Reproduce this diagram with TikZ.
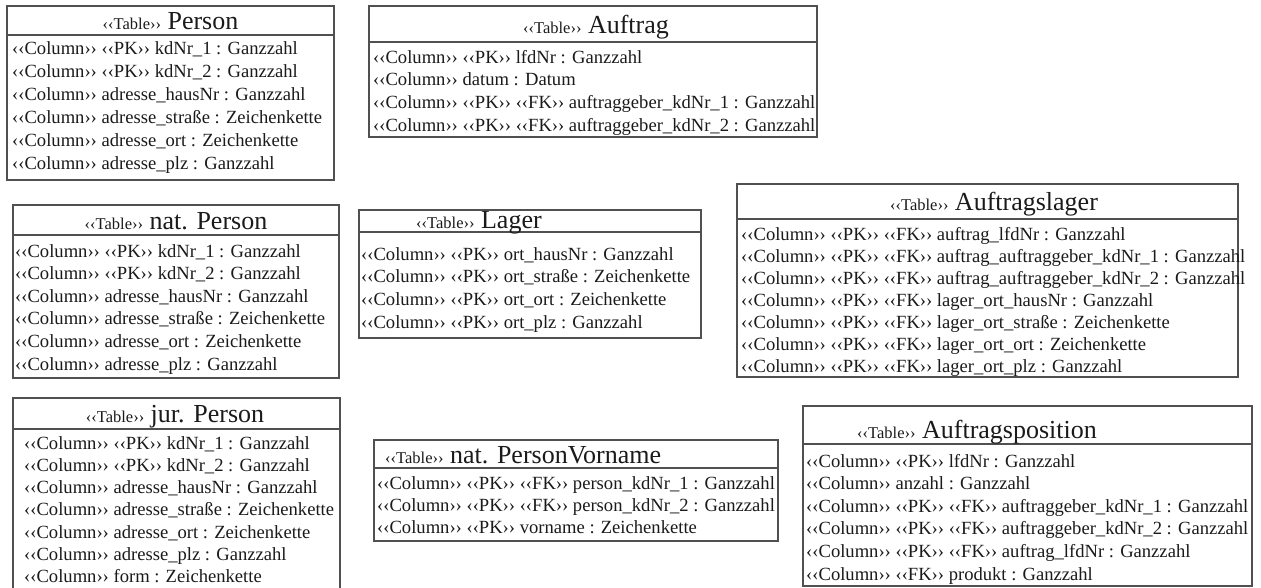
\documentclass[tikz,border=0pt]{standalone}
\usepackage{fontspec}
\setmainfont{Liberation Serif}
\definecolor{framegray}{HTML}{505050}
\definecolor{ink}{HTML}{1A1A1A}
% stereotype marker, e.g. <<Table>>
\newcommand\stype[1]{‹‹#1››}
\newcommand\rowsize{\fontsize{18.6}{22}\selectfont}
\newcommand\namesize{\fontsize{26}{29}\selectfont}
\newcommand\tagsize{\fontsize{16.5}{19}\selectfont}
\newcommand\ttl[1]{{\tagsize\stype{Table}} #1}
\tikzset{
  tbox/.style={draw=framegray, line width=1.2pt},
  rowtext/.style={anchor=base west, inner sep=0pt, font=\rowsize, text=ink},
  titletext/.style={anchor=base, inner sep=0pt, font=\namesize, text=ink},
  titleleft/.style={anchor=base west, inner sep=0pt, font=\namesize, text=ink},
}
\begin{document}
\begin{tikzpicture}[x=1pt,y=-1pt]
\useasboundingbox (0,0) rectangle (1261,587);
\clip (0,0) rectangle (1261,587);

% Person
\draw[tbox] (7,6) rectangle (334,180);
\draw[tbox] (7,35) -- (334,35);
\node[titletext] (person) at (170.5,29) {\ttl{Person}};
\foreach \t [count=\i] in {%
  {\stype{Column} \stype{PK} kdNr\_1 : Ganzzahl},
  {\stype{Column} \stype{PK} kdNr\_2 : Ganzzahl},
  {\stype{Column} adresse\_hausNr : Ganzzahl},
  {\stype{Column} adresse\_straße : Zeichenkette},
  {\stype{Column} adresse\_ort : Zeichenkette},
  {\stype{Column} adresse\_plz : Ganzzahl}}
  \node[rowtext] (person-\i) at (12,{54+23*(\i-1)}) {\t};

% Auftrag
\draw[tbox] (369,6) rectangle (817,137);
\draw[tbox] (369,42) -- (817,42);
\node[titletext] (auftrag) at (596,33) {\ttl{Auftrag}};
\foreach \t [count=\i] in {%
  {\stype{Column} \stype{PK} lfdNr : Ganzzahl},
  {\stype{Column} datum : Datum},
  {\stype{Column} \stype{PK} \stype{FK} auftraggeber\_kdNr\_1 : Ganzzahl},
  {\stype{Column} \stype{PK} \stype{FK} auftraggeber\_kdNr\_2 : Ganzzahl}}
  \node[rowtext] (auftrag-\i) at (373,{63+22.7*(\i-1)}) {\t};

% nat. Person
\draw[tbox] (13,205) rectangle (339,378);
\draw[tbox] (13,235) -- (339,235);
\node[titletext] (natperson) at (176,229) {\ttl{nat. Person}};
\foreach \t [count=\i] in {%
  {\stype{Column} \stype{PK} kdNr\_1 : Ganzzahl},
  {\stype{Column} \stype{PK} kdNr\_2 : Ganzzahl},
  {\stype{Column} adresse\_hausNr : Ganzzahl},
  {\stype{Column} adresse\_straße : Zeichenkette},
  {\stype{Column} adresse\_ort : Zeichenkette},
  {\stype{Column} adresse\_plz : Ganzzahl}}
  \node[rowtext] (natperson-\i) at (15,{257+22.6*(\i-1)}) {\t};

% Lager
\draw[tbox] (359,210) rectangle (701,338);
\draw[tbox] (359,232) -- (701,232);
\node[titleleft] (lager) at (416,228) {\ttl{Lager}};
\foreach \t [count=\i] in {%
  {\stype{Column} \stype{PK} ort\_hausNr : Ganzzahl},
  {\stype{Column} \stype{PK} ort\_straße : Zeichenkette},
  {\stype{Column} \stype{PK} ort\_ort : Zeichenkette},
  {\stype{Column} \stype{PK} ort\_plz : Ganzzahl}}
  \node[rowtext] (lager-\i) at (361,{260+22.7*(\i-1)}) {\t};

% Auftragslager
\draw[tbox] (737,184) rectangle (1238,377);
\draw[tbox] (737,219) -- (1238,219);
\node[titletext] (auftragslager) at (994,210) {\ttl{Auftragslager}};
\foreach \t [count=\i] in {%
  {\stype{Column} \stype{PK} \stype{FK} auftrag\_lfdNr : Ganzzahl},
  {\stype{Column} \stype{PK} \stype{FK} auftrag\_auftraggeber\_kdNr\_1 : Ganzzahl},
  {\stype{Column} \stype{PK} \stype{FK} auftrag\_auftraggeber\_kdNr\_2 : Ganzzahl},
  {\stype{Column} \stype{PK} \stype{FK} lager\_ort\_hausNr : Ganzzahl},
  {\stype{Column} \stype{PK} \stype{FK} lager\_ort\_straße : Zeichenkette},
  {\stype{Column} \stype{PK} \stype{FK} lager\_ort\_ort : Zeichenkette},
  {\stype{Column} \stype{PK} \stype{FK} lager\_ort\_plz : Ganzzahl}}
  \node[rowtext] (auftragslager-\i) at (741,{240.5+22*(\i-1)}) {\t};

% jur. Person (runs past the lower edge)
\draw[tbox] (13,620) -- (13,398) -- (340,398) -- (340,620);
\draw[tbox] (13,429) -- (340,429);
\node[titletext] (jurperson) at (175,422) {\ttl{jur. Person}};
\foreach \t [count=\i] in {%
  {\stype{Column} \stype{PK} kdNr\_1 : Ganzzahl},
  {\stype{Column} \stype{PK} kdNr\_2 : Ganzzahl},
  {\stype{Column} adresse\_hausNr : Ganzzahl},
  {\stype{Column} adresse\_straße : Zeichenkette},
  {\stype{Column} adresse\_ort : Zeichenkette},
  {\stype{Column} adresse\_plz : Ganzzahl},
  {\stype{Column} form : Zeichenkette}}
  \node[rowtext] (jurperson-\i) at (24,{449+22.3*(\i-1)}) {\t};

% nat. PersonVorname
\draw[tbox] (374,440) rectangle (778,541);
\draw[tbox] (374,468) -- (778,468);
\node[titleleft] (vorname) at (385,463) {\ttl{nat. PersonVorname}};
\foreach \t [count=\i] in {%
  {\stype{Column} \stype{PK} \stype{FK} person\_kdNr\_1 : Ganzzahl},
  {\stype{Column} \stype{PK} \stype{FK} person\_kdNr\_2 : Ganzzahl},
  {\stype{Column} \stype{PK} vorname : Zeichenkette}}
  \node[rowtext] (vorname-\i) at (377,{489+22.3*(\i-1)}) {\t};

% Auftragsposition
\draw[tbox] (803,406) rectangle (1252,586);
\draw[tbox] (803,444) -- (1252,444);
\node[titleleft] (auftragsposition) at (857,438) {\ttl{Auftragsposition}};
\foreach \t [count=\i] in {%
  {\stype{Column} \stype{PK} lfdNr : Ganzzahl},
  {\stype{Column} anzahl : Ganzzahl},
  {\stype{Column} \stype{PK} \stype{FK} auftraggeber\_kdNr\_1 : Ganzzahl},
  {\stype{Column} \stype{PK} \stype{FK} auftraggeber\_kdNr\_2 : Ganzzahl},
  {\stype{Column} \stype{PK} \stype{FK} auftrag\_lfdNr : Ganzzahl},
  {\stype{Column} \stype{FK} produkt : Ganzzahl}}
  \node[rowtext] (auftragsposition-\i) at (806,{467+22.6*(\i-1)}) {\t};
\end{tikzpicture}
\end{document}
